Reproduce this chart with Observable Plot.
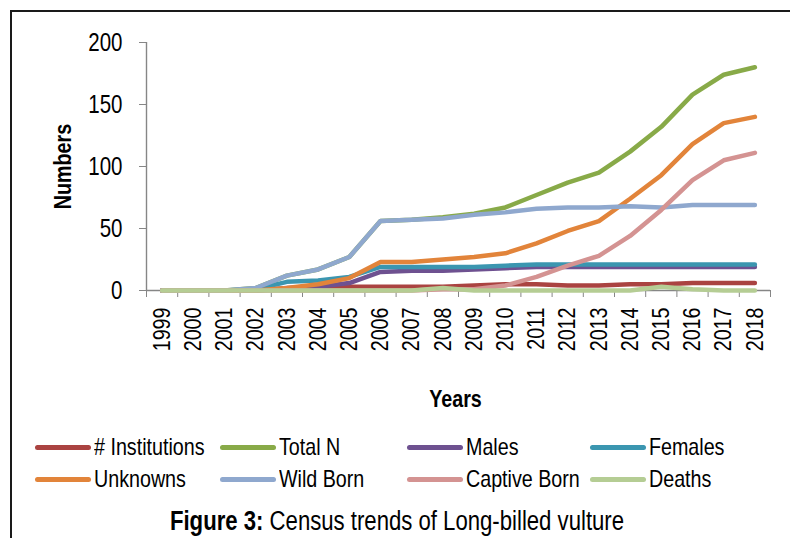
<!DOCTYPE html>
<html>
<head>
<meta charset="utf-8">
<script src="https://cdn.jsdelivr.net/npm/d3@7"></script>
<script src="https://cdn.jsdelivr.net/npm/@observablehq/plot@0.6"></script>
<style>
  html, body { margin: 0; padding: 0; background: #fff; overflow: hidden; width: 790px; height: 538px; font-family: "Liberation Sans", Arial, sans-serif; }
  #frame { position: absolute; left: 10px; top: 10px; width: 820px; height: 600px; border-top: 2px solid #1a1a1a; border-left: 2px solid #1a1a1a; }
  #chart { position: absolute; left: 0; top: 0; }
  .leg { position: absolute; display: flex; align-items: center; color: #000; white-space: nowrap; height: 30px; }
  .sw { width: 56px; height: 5px; border-radius: 3px; margin-right: 3px; flex: none; }
  .lt { display: inline-block; font-size: 24px; transform: scaleX(0.82); transform-origin: left center; }
  #caption { position: absolute; left: 0; width: 794px; text-align: center; color: #000; white-space: nowrap; font-size: 27px; line-height: 30px; transform: scaleX(0.82); transform-origin: 397px center; }
</style>
</head>
<body>
<div id="frame"></div>
<div id="chart"></div>
<div id="legend"></div>
<div id="caption"><b>Figure 3:</b> Census trends of Long-billed vulture</div>
<script>
const years = [1999,2000,2001,2002,2003,2004,2005,2006,2007,2008,2009,2010,2011,2012,2013,2014,2015,2016,2017,2018];
const seriesNames = ["# Institutions","Total N","Males","Females","Unknowns","Wild Born","Captive Born","Deaths"];
const seriesColors = ["#AA4341","#88AA48","#6E5190","#3B96B0","#E2843A","#8FA8CE","#D49392","#B5CD94"];
const institutions = [0,0,0,0,1,2,3,3,3,3,4,5,5,4,4,5,5,6,6,6];
const totalN       = [0,0,0,2,12,17,27,56,57,59,62,67,77,87,95,112,132,158,174,180];
const males        = [0,0,0,0,2,3,6,15,16,16,17,18,19,19,19,19,19,19,19,19];
const females      = [0,0,0,1,7,8,11,19,19,19,19,20,21,21,21,21,21,21,21,21];
const unknowns     = [0,0,0,0,2,5,10,23,23,25,27,30,38,48,56,74,93,118,135,140];
const wildBorn     = [0,0,0,2,12,17,27,56,57,58,61,63,66,67,67,68,67,69,69,69];
const captiveBorn  = [0,0,0,0,0,0,0,0,0,1,1,4,11,20,28,44,65,89,105,111];
const deaths       = [0,0,0,0,0,0,0,0,0,2,0,0,0,0,0,0,3,1,0,0];
const yTicks = [0,50,100,150,200];
const xBounds = [1998.5,1999.5,2000.5,2001.5,2002.5,2003.5,2004.5,2005.5,2006.5,2007.5,2008.5,2009.5,2010.5,2011.5,2012.5,2013.5,2014.5,2015.5,2016.5,2017.5,2018.5];

const seriesValues = [institutions,totalN,males,females,unknowns,wildBorn,captiveBorn,deaths];
const data = seriesNames.flatMap((name, k) => years.map((year, i) => ({name, year, value: seriesValues[k][i]})));

const FONT = '"Liberation Sans", Arial, sans-serif';
const FS = 24;
const SQUEEZE = 0.82;

const axisGray = "#868686";
const chart = Plot.plot({
  width: 790, height: 420,
  marginLeft: 146, marginRight: 20, marginTop: 42, marginBottom: 130,
  style: {fontFamily: FONT, fontSize: FS + "px", color: "#000", background: "transparent", overflow: "visible"},
  x: {domain: [1998.5, 2018.5]},
  y: {domain: [0, 200]},
  color: {domain: seriesNames, range: seriesColors},
  marks: [
    Plot.axisY(yTicks, {tickSize: 7, tickPadding: 17, stroke: axisGray, fill: "#000", tickFormat: d => String(d), label: null, fontSize: 25}),
    Plot.axisX(years, {tickSize: 0, tickPadding: 17, tickRotate: -90, tickFormat: d => String(d), label: null, fill: "#000"}),
    Plot.axisX(xBounds, {tickSize: 7, tickFormat: () => "", label: null, stroke: axisGray}),
    Plot.ruleX([1998.5], {stroke: axisGray, strokeWidth: 1.4}),
    Plot.ruleY([0], {stroke: axisGray, strokeWidth: 1.4}),
    Plot.lineY(data, {x: "year", y: "value", z: "name", stroke: "name", strokeWidth: 4.5, strokeLinecap: "round", strokeLinejoin: "round"}),
    Plot.text(["Numbers"], {frameAnchor: "left", dx: -83, rotate: -90, fontWeight: "bold", lineAnchor: "middle", textAnchor: "middle", fill: "#000"}),
    Plot.text(["Years"], {frameAnchor: "bottom", dy: 109, dx: -3, fontWeight: "bold", lineAnchor: "middle", fill: "#000"})
  ]
});
document.getElementById("chart").appendChild(chart);

// condense all svg text (reference uses a narrow face)
chart.querySelectorAll("text").forEach(t => {
  if (!t.textContent) return;
  const len = t.getComputedTextLength();
  if (len > 0) {
    t.setAttribute("textLength", (len * SQUEEZE).toFixed(2));
    t.setAttribute("lengthAdjust", "spacingAndGlyphs");
  }
});

// legend
const legend = document.getElementById("legend");
const colX = [35, 220, 407, 590];
const rowY = [447, 479];
seriesNames.forEach((name, i) => {
  const el = document.createElement("div");
  el.className = "leg";
  el.style.left = colX[i % 4] + "px";
  el.style.top = (rowY[Math.floor(i / 4)] - 15) + "px";
  const sw = document.createElement("div");
  sw.className = "sw";
  sw.style.background = seriesColors[i];
  const tx = document.createElement("span");
  tx.className = "lt";
  tx.textContent = name;
  el.appendChild(sw); el.appendChild(tx);
  legend.appendChild(el);
});
document.getElementById("caption").style.top = (521 - 15) + "px";
</script>
</body>
</html>
